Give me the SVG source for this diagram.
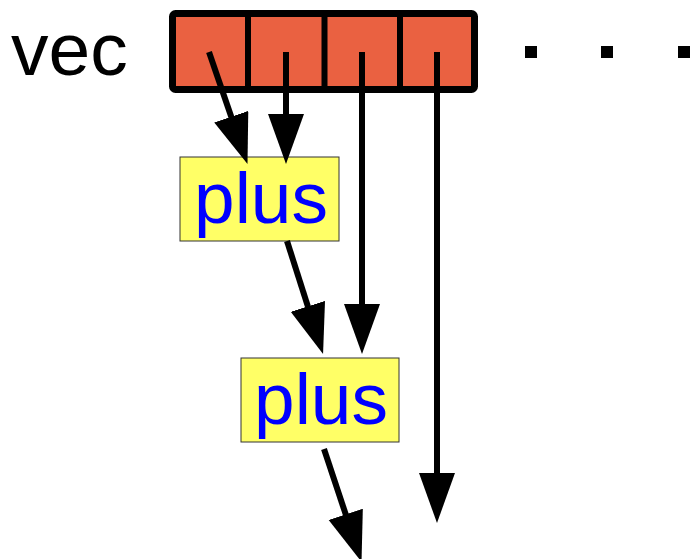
<svg xmlns="http://www.w3.org/2000/svg" width="692" height="559" viewBox="0 0 692 559">
<style>
.lbl{font-family:"Liberation Sans",Arial,sans-serif;font-size:73px}
.plus{fill:#0000ff;text-anchor:middle}
.box{fill:#ffff66;stroke:#333;stroke-width:1}
.edge{stroke:#000;stroke-width:6;fill:none;marker-end:url(#ah)}
</style>
<defs>
<marker id="ah" markerUnits="userSpaceOnUse" markerWidth="52" markerHeight="38" refX="10" refY="18" orient="auto" viewBox="0 0 52 38">
<path d="M0,0 L50,18 L0,36 z" fill="#000"/>
</marker>
</defs>
<g id="vec-label"><text class="lbl" x="11" y="75" style="font-size:75px">vec</text></g>
<g id="vec">
<rect x="172.5" y="13.5" width="302" height="76" rx="3" fill="#ea6141" stroke="#000" stroke-width="7"/>
<line x1="248" y1="13.5" x2="248" y2="89.5" stroke="#000" stroke-width="6"/>
<line x1="324.5" y1="13.5" x2="324.5" y2="89.5" stroke="#000" stroke-width="6"/>
<line x1="400" y1="13.5" x2="400" y2="89.5" stroke="#000" stroke-width="6"/>
</g>
<g id="dots" fill="#000">
<rect x="525" y="46" width="12" height="12"/>
<rect x="601" y="46" width="12" height="12"/>
<rect x="678" y="46" width="12" height="12"/>
</g>
<g id="plus1">
<rect class="box" x="180" y="157" width="159" height="84"/>
<text class="lbl plus" x="261" y="223">plus</text>
</g>
<g id="plus2">
<rect class="box" x="241" y="358" width="158" height="84"/>
<text class="lbl plus" x="321" y="424">plus</text>
</g>
<g id="connectors">
<line class="edge" x1="209" y1="52" x2="234.5" y2="126.2"/>
<line class="edge" x1="286" y1="52" x2="286" y2="124"/>
<line class="edge" x1="287" y1="241" x2="310.9" y2="315.9"/>
<line class="edge" x1="362" y1="52" x2="362" y2="314"/>
<line class="edge" x1="437" y1="52" x2="437" y2="483"/>
<line class="edge" x1="324" y1="449" x2="348.9" y2="523.9"/>
</g>
</svg>
